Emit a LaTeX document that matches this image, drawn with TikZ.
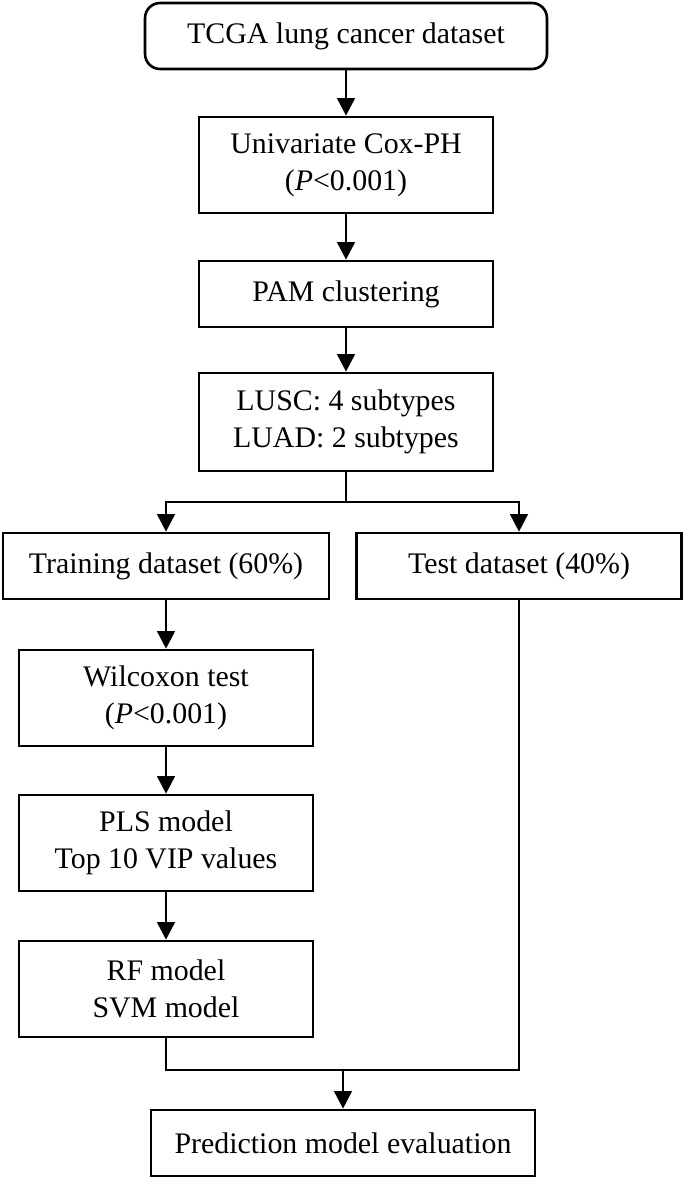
\documentclass[tikz,border=0pt]{standalone}
\usepackage{fontspec}
\setmainfont{Liberation Serif}
\usetikzlibrary{arrows.meta}
\tikzset{
	box/.style={draw, line width=1.5pt, align=center, inner sep=0pt, minimum width=5.88cm, minimum height=1.32cm},
	tall/.style={box, minimum height=1.92cm},
	flow/.style={line width=1.5pt, -{Triangle[length=10pt,width=10pt]}},
	link/.style={line width=1.5pt}
}
\begin{document}
\begin{tikzpicture}[x=0.02cm,y=-0.02cm,font=\fontsize{17}{21}\selectfont]
	\useasboundingbox (0,0) rectangle (685,1179);
	\node [box, rounded corners=0.3cm, minimum width=8.04cm] (tcga) at (346,36) {TCGA lung cancer dataset};
	\node [tall] (cox) at (346,165) {Univariate Cox-PH\\(\textit{P}<0.001)};
	\node [box] (pam) at (346,294) {PAM clustering};
	\node [tall, minimum height=1.96cm] (sub) at (346,422) {LUSC: 4 subtypes\\LUAD: 2 subtypes};
	\node [box, minimum width=6.52cm] (train) at (166,566) {Training dataset (60\%)};
	\node [box, minimum width=6.5cm] (test) at (519,566) {Test dataset (40\%)};
	\node [tall] (wil) at (166,698) {Wilcoxon test\\(\textit{P}<0.001)};
	\node [tall] (pls) at (166,843) {PLS model\\Top 10 VIP values};
	\node [tall] (rf) at (166,989) {RF model\\SVM model};
	\node [box, minimum width=7.68cm] (pred) at (343,1143) {Prediction model evaluation};
	\coordinate (split) at (346,502);
	\coordinate (join) at (343,1070);
	\draw [flow] (tcga) -- (cox);
	\draw [flow] (cox) -- (pam);
	\draw [flow] (pam) -- (sub);
	\draw [link] (sub) -- (split);
	\draw [flow] (split) -| (train);
	\draw [flow] (split) -| (test);
	\draw [flow] (train) -- (wil);
	\draw [flow] (wil) -- (pls);
	\draw [flow] (pls) -- (rf);
	\draw [link] (rf) |- (join);
	\draw [link] (test) |- (join);
	\draw [flow] (join) -- (pred);
\end{tikzpicture}
\end{document}
